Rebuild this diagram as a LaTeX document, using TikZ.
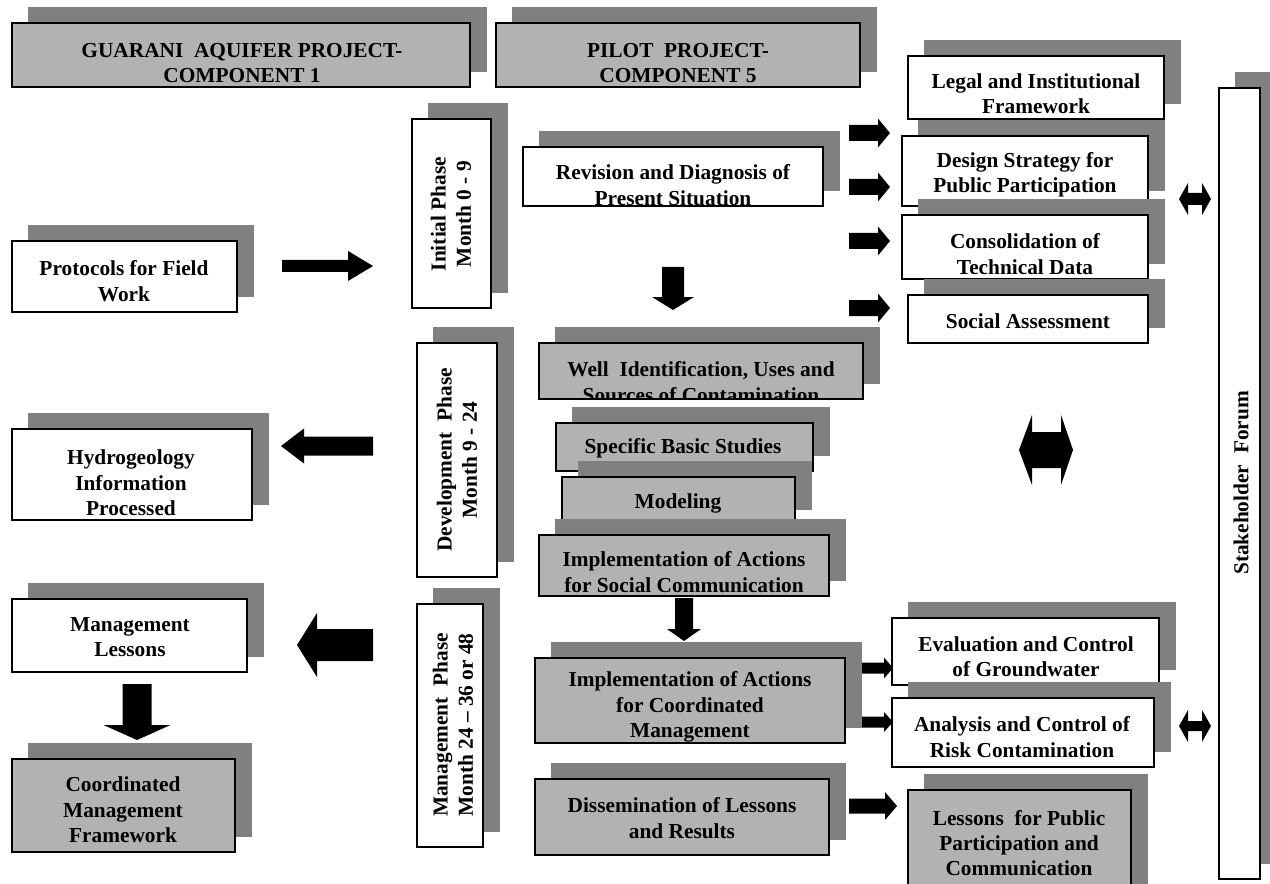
\documentclass[tikz,border=0pt]{standalone}
\usepackage{fontspec}
\setmainfont{Liberation Serif}
\usetikzlibrary{fit}
\definecolor{shd}{HTML}{808080}
\definecolor{gbx}{HTML}{B2B2B2}
\tikzset{
  txt/.style={font=\fontsize{16}{19}\selectfont\bfseries, align=center, inner sep=0pt},
  bd/.style={draw=black, line width=1.3pt},
  blk/.style={fill=black},
}
% #1 name, #2-#5 box corners, #6 fill, #7 text, #8 #9 text centre
\newcommand{\shb}[9]{%
  \fill[shd] (#2+16,#3-16) rectangle (#4+17,#5-15);
  \node[fit={(#2,#3)(#4,#5)}, inner sep=0pt, fill=#6] (#1) {};
  \begin{scope}\clip (#2,#3) rectangle (#4,#5);
    \node[txt] (#1t) at (#8,#9) {#7};
  \end{scope}
  \draw[bd] (#1.south west) rectangle (#1.north east);
}
\newcommand{\shbr}[9]{%
  \fill[shd] (#2+16,#3-16) rectangle (#4+17,#5-15);
  \node[fit={(#2,#3)(#4,#5)}, inner sep=0pt, fill=#6] (#1) {};
  \node[txt, rotate=90] (#1t) at (#8,#9) {#7};
  \draw[bd] (#1.south west) rectangle (#1.north east);
}
% horizontal block arrow: x start, head base, tip, y centre, shaft half, head half
\newcommand{\harr}[6]{%
  \fill[blk] (#1,#4-#5) -- (#2,#4-#5) -- (#2,#4-#6) -- (#3,#4) -- (#2,#4+#6) -- (#2,#4+#5) -- (#1,#4+#5) -- cycle;}
% vertical block arrow: y start, head base, tip, x centre, shaft half, head half
\newcommand{\varr}[6]{%
  \fill[blk] (#4-#5,#1) -- (#4-#5,#2) -- (#4-#6,#2) -- (#4,#3) -- (#4+#6,#2) -- (#4+#5,#2) -- (#4+#5,#1) -- cycle;}
% double arrow: left tip, left base, right base, right tip, y centre, shaft half, head half
\newcommand{\darr}[7]{%
  \fill[blk] (#1,#5) -- (#2,#5-#7) -- (#2,#5-#6) -- (#3,#5-#6) -- (#3,#5-#7) -- (#4,#5) -- (#3,#5+#7) -- (#3,#5+#6) -- (#2,#5+#6) -- (#2,#5+#7) -- cycle;}
\begin{document}
\begin{tikzpicture}[x=0.75pt,y=-0.75pt]
\useasboundingbox[fill=white] (0,0) rectangle (1270,884);

% headings
\shb{guarani}{12}{23}{470}{87}{gbx}{GUARANI\ \ AQUIFER PROJECT-\\COMPONENT 1}{242}{63}
\shb{pilot}{496}{23}{860}{87}{gbx}{PILOT\ \ PROJECT-\\COMPONENT 5}{678}{63}

% right column
\shb{legal}{908}{56}{1164}{119}{white}{Legal and Institutional\\Framework}{1036}{94}
\shb{design}{902}{136}{1148}{206}{white}{Design Strategy for\\Public Participation}{1025}{175}
\shb{consol}{902}{215}{1148}{279}{white}{Consolidation of\\Technical Data}{1025}{254}
\shb{social}{908}{295}{1148}{343}{white}{Social Assessment}{1028}{321}

% stakeholder forum
\shbr{forum}{1219}{88}{1260}{879}{white}{Stakeholder\ \ Forum}{1241}{483}

% phases
\shbr{initial}{412}{119}{491}{308}{white}{Initial Phase\\Month 0 - 9}{451}{214}
\shbr{devel}{417}{343}{497}{577}{white}{Development\ \ Phase\\Month 9 - 24}{457}{460}
\shbr{mgmtph}{417}{604}{483}{847}{white}{Management\ \ Phase\\Month 24 -- 36 or 48}{453}{725}

% centre column
\shb{revision}{523}{147}{823}{206}{white}{Revision and Diagnosis of\\Present Situation}{673}{185}
\shb{well}{539}{343}{863}{399}{gbx}{Well\ \ Identification, Uses and\\Sources of Contamination}{701}{382}
\shb{specific}{556}{423}{813}{471}{gbx}{Specific Basic Studies}{683}{448}
\shb{modeling}{562}{477}{795}{525}{gbx}{Modeling}{678}{503}
\shb{impsoc}{539}{535}{829}{596}{gbx}{Implementation of Actions\\for Social Communication}{684}{572}
\shb{impcoord}{535}{658}{845}{743}{gbx}{Implementation of Actions\\for Coordinated\\Management}{690}{707}
\shb{dissem}{535}{779}{829}{855}{gbx}{Dissemination of Lessons\\and Results}{682}{818}

% left column
\shb{protocols}{12}{241}{237}{312}{white}{Protocols for Field\\Work}{124}{281}
\shb{hydro}{12}{429}{252}{520}{white}{Hydrogeology\\Information\\Processed}{131}{483}
\shb{mlessons}{12}{599}{247}{672}{white}{Management\\Lessons}{130}{637}
\shb{coordfw}{12}{759}{235}{852}{gbx}{Coordinated\\Management\\Framework}{123}{810}

% lower right
\shb{eval}{892}{618}{1159}{685}{white}{Evaluation and Control\\of Groundwater}{1026}{657}
\shb{analysis}{892}{698}{1154}{767}{white}{Analysis and Control of\\Risk Contamination}{1022}{737}
\shb{lpublic}{908}{790}{1131}{900}{gbx}{Lessons\ \ for Public\\Participation and\\Communication}{1019}{843}

% arrows
\harr{282}{348}{373}{266}{6}{15}
\varr{267}{297}{310}{673}{11}{21}
\harr{849}{878}{890}{133}{8}{14.5}
\harr{849}{878}{890}{187}{8}{14.5}
\harr{849}{878}{890}{241}{8}{14.5}
\harr{849}{878}{890}{308}{8}{14.5}
\darr{1179}{1188}{1202}{1211}{199}{6}{16}
\darr{1019}{1032}{1061}{1073}{450}{18}{35}
\harr{373}{304}{281}{446}{9.5}{17.5}
\varr{598}{629}{641}{684}{9}{17}
\harr{373}{317}{297}{645}{16}{32}
\varr{684}{725}{740}{137}{14.5}{33.5}
\harr{862}{884}{893}{668}{5.5}{10.5}
\harr{862}{884}{893}{722}{5.5}{10}
\harr{849}{885}{897}{806}{7.5}{14}
\darr{1179}{1188}{1202}{1211}{726}{5}{16}
\end{tikzpicture}
\end{document}
